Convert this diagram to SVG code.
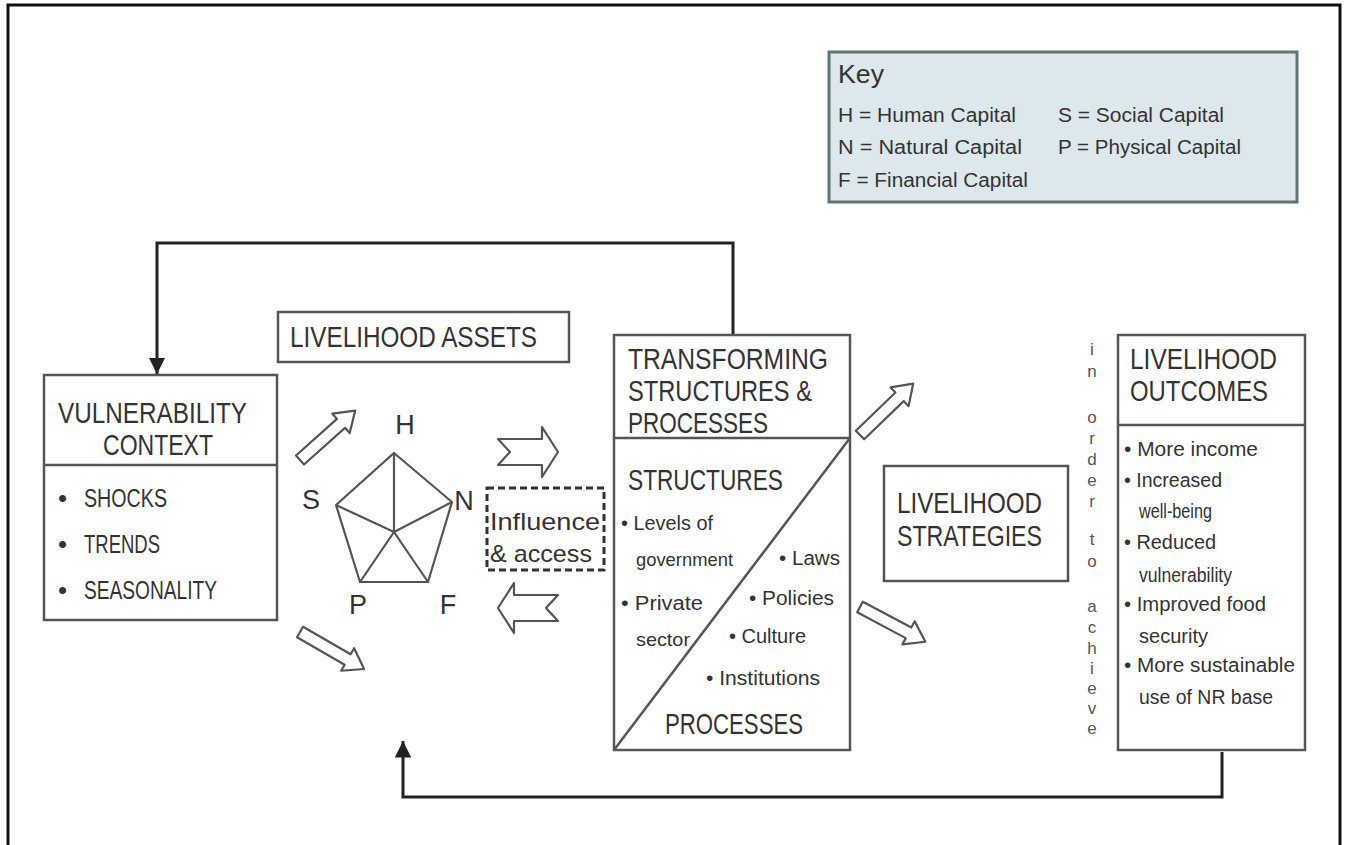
<svg xmlns="http://www.w3.org/2000/svg" width="1347" height="845" viewBox="0 0 1347 845">
<style>
text{font-family:"Liberation Sans","DejaVu Sans",sans-serif;fill:#333}
.box{fill:#fff;stroke:#555;stroke-width:2.5}
.div{stroke:#555;stroke-width:2.5;fill:none}
.t32{font-size:30px}
.t28{font-size:26px}
.t20{font-size:20px}
.t19{font-size:19px}
.lbl{font-size:27px;text-anchor:middle}
.vt{font-size:17px;text-anchor:middle;fill:#555}
.conn{fill:none;stroke:#222;stroke-width:3}
.harrow{fill:#fff;stroke:#555;stroke-width:2.2;stroke-linejoin:round}
.pent{fill:none;stroke:#555;stroke-width:2.2}
</style>
<defs>
<marker id="ah" viewBox="0 0 10 10" refX="10" refY="5" markerWidth="5.5" markerHeight="5.5" orient="auto" markerUnits="strokeWidth">
<path d="M0,0 L10,5 L0,10 Z" fill="#222"/>
</marker>
<path id="blk" d="M0,-6 H55 V-13 L74,0 L55,13 V6 H0 Z"/>
</defs>
<rect width="1347" height="845" fill="#fff"/>
<path d="M8,845 V5 H1340 V845" fill="none" stroke="#111" stroke-width="3"/>

<g id="key">
<rect x="829" y="52" width="468" height="150" fill="#dde8ec" stroke="#5f7479" stroke-width="3"/>
<text x="838" y="83" font-size="25" textLength="46" lengthAdjust="spacingAndGlyphs">Key</text>
<text class="t20" x="838" y="122" textLength="178" lengthAdjust="spacingAndGlyphs">H = Human Capital</text>
<text class="t20" x="1058" y="122" textLength="166" lengthAdjust="spacingAndGlyphs">S = Social Capital</text>
<text class="t20" x="838" y="154" textLength="184" lengthAdjust="spacingAndGlyphs">N = Natural Capital</text>
<text class="t20" x="1058" y="154" textLength="183" lengthAdjust="spacingAndGlyphs">P = Physical Capital</text>
<text class="t20" x="838" y="187" textLength="190" lengthAdjust="spacingAndGlyphs">F = Financial Capital</text>
</g>

<g id="connectors">
<path class="conn" d="M733,335 V243 H157 V374" marker-end="url(#ah)"/>
<path class="conn" d="M1222,752 V797 H403 V741" marker-end="url(#ah)"/>
</g>

<g id="vulnerability-context">
<rect class="box" x="44" y="375" width="233" height="245"/>
<line class="div" x1="44" y1="465" x2="277" y2="465"/>
<text class="t32" x="58" y="423" textLength="189" lengthAdjust="spacingAndGlyphs">VULNERABILITY</text>
<text class="t32" x="103" y="455" textLength="110" lengthAdjust="spacingAndGlyphs">CONTEXT</text>
<text class="t28" x="58" y="507">•</text>
<text class="t28" x="84" y="507" textLength="83" lengthAdjust="spacingAndGlyphs">SHOCKS</text>
<text class="t28" x="58" y="553">•</text>
<text class="t28" x="84" y="553" textLength="76" lengthAdjust="spacingAndGlyphs">TRENDS</text>
<text class="t28" x="58" y="599">•</text>
<text class="t28" x="84" y="599" textLength="133" lengthAdjust="spacingAndGlyphs">SEASONALITY</text>
</g>

<g id="livelihood-assets">
<rect class="box" x="278" y="312" width="291" height="50"/>
<text class="t32" x="290" y="347" textLength="247" lengthAdjust="spacingAndGlyphs">LIVELIHOOD ASSETS</text>
</g>

<g id="asset-pentagon">
<path class="pent" d="M394,453 L452,502 L428,582 L360,582 L336,505 Z M394,532 L394,453 M394,532 L452,502 M394,532 L428,582 M394,532 L360,582 M394,532 L336,505"/>
<text class="lbl" x="405" y="434">H</text>
<text class="lbl" x="311" y="509">S</text>
<text class="lbl" x="464" y="510">N</text>
<text class="lbl" x="358" y="614">P</text>
<text class="lbl" x="448" y="614">F</text>
</g>

<g id="asset-arrows">
<use href="#blk" class="harrow" transform="translate(300,460) rotate(-41.8)"/>
<use href="#blk" class="harrow" transform="translate(300,632) rotate(30)"/>
<path class="harrow" d="M498,439 H542 V427 L558,452 L542,477 V465 H498 L510,452 Z"/>
<path class="harrow" d="M558,595 H514 V583 L498,608 L514,633 V621 H558 L546,608 Z"/>
</g>

<g id="influence-access">
<rect x="487" y="488" width="117" height="82" fill="#fff" stroke="#333" stroke-width="3" stroke-dasharray="7,4"/>
<text x="490" y="530" font-size="24" textLength="110" lengthAdjust="spacingAndGlyphs">Influence</text>
<text x="490" y="562" font-size="24" textLength="102" lengthAdjust="spacingAndGlyphs">&amp; access</text>
</g>

<g id="transforming-structures">
<rect class="box" x="614" y="335" width="236" height="415"/>
<line class="div" x1="614" y1="438" x2="850" y2="438"/>
<line class="div" x1="850" y1="438" x2="614" y2="750"/>
<text class="t32" x="628" y="369" textLength="200" lengthAdjust="spacingAndGlyphs">TRANSFORMING</text>
<text class="t32" x="628" y="401" textLength="184" lengthAdjust="spacingAndGlyphs">STRUCTURES &amp;</text>
<text class="t32" x="628" y="433" textLength="140" lengthAdjust="spacingAndGlyphs">PROCESSES</text>
<text class="t32" x="628" y="490" textLength="155" lengthAdjust="spacingAndGlyphs">STRUCTURES</text>
<text class="t20" x="621" y="530" textLength="92" lengthAdjust="spacingAndGlyphs">• Levels of</text>
<text class="t19" x="636" y="566" textLength="97" lengthAdjust="spacingAndGlyphs">government</text>
<text class="t20" x="621" y="610" textLength="82" lengthAdjust="spacingAndGlyphs">• Private</text>
<text class="t19" x="636" y="646" textLength="54" lengthAdjust="spacingAndGlyphs">sector</text>
<text class="t20" x="779" y="565" textLength="61" lengthAdjust="spacingAndGlyphs">• Laws</text>
<text class="t20" x="749" y="605" textLength="85" lengthAdjust="spacingAndGlyphs">• Policies</text>
<text class="t20" x="729" y="643" textLength="77" lengthAdjust="spacingAndGlyphs">• Culture</text>
<text class="t20" x="706" y="685" textLength="114" lengthAdjust="spacingAndGlyphs">• Institutions</text>
<text class="t32" x="665" y="734" textLength="138" lengthAdjust="spacingAndGlyphs">PROCESSES</text>
</g>

<g id="strategy-arrows">
<use href="#blk" class="harrow" transform="translate(860,435) rotate(-44)"/>
<use href="#blk" class="harrow" transform="translate(860,607) rotate(28)"/>
</g>

<g id="livelihood-strategies">
<rect class="box" x="884" y="466" width="184" height="115"/>
<text class="t32" x="897" y="513" textLength="145" lengthAdjust="spacingAndGlyphs">LIVELIHOOD</text>
<text class="t32" x="897" y="546" textLength="145" lengthAdjust="spacingAndGlyphs">STRATEGIES</text>
</g>

<g id="in-order-to-achieve">
<text class="vt" x="1092" y="355">i</text>
<text class="vt" x="1092" y="377">n</text>
<text class="vt" x="1092" y="423">o</text>
<text class="vt" x="1092" y="444">r</text>
<text class="vt" x="1092" y="465">d</text>
<text class="vt" x="1092" y="486">e</text>
<text class="vt" x="1092" y="507">r</text>
<text class="vt" x="1092" y="545">t</text>
<text class="vt" x="1092" y="567">o</text>
<text class="vt" x="1092" y="612">a</text>
<text class="vt" x="1092" y="633">c</text>
<text class="vt" x="1092" y="654">h</text>
<text class="vt" x="1092" y="674">i</text>
<text class="vt" x="1092" y="694">e</text>
<text class="vt" x="1092" y="714">v</text>
<text class="vt" x="1092" y="734">e</text>
</g>

<g id="livelihood-outcomes">
<rect class="box" x="1118" y="335" width="187" height="415"/>
<line class="div" x1="1118" y1="425" x2="1305" y2="425"/>
<text class="t32" x="1130" y="369" textLength="147" lengthAdjust="spacingAndGlyphs">LIVELIHOOD</text>
<text class="t32" x="1130" y="401" textLength="138" lengthAdjust="spacingAndGlyphs">OUTCOMES</text>
<text class="t20" x="1124" y="456" textLength="134" lengthAdjust="spacingAndGlyphs">• More income</text>
<text class="t20" x="1124" y="487" textLength="98" lengthAdjust="spacingAndGlyphs">• Increased</text>
<text class="t20" x="1139" y="518" textLength="73" lengthAdjust="spacingAndGlyphs">well-being</text>
<text class="t20" x="1124" y="549" textLength="92" lengthAdjust="spacingAndGlyphs">• Reduced</text>
<text class="t20" x="1139" y="582" textLength="93" lengthAdjust="spacingAndGlyphs">vulnerability</text>
<text class="t20" x="1124" y="611" textLength="142" lengthAdjust="spacingAndGlyphs">• Improved food</text>
<text class="t20" x="1139" y="643" textLength="69" lengthAdjust="spacingAndGlyphs">security</text>
<text class="t20" x="1124" y="672" textLength="171" lengthAdjust="spacingAndGlyphs">• More sustainable</text>
<text class="t20" x="1139" y="704" textLength="134" lengthAdjust="spacingAndGlyphs">use of NR base</text>
</g>
</svg>
